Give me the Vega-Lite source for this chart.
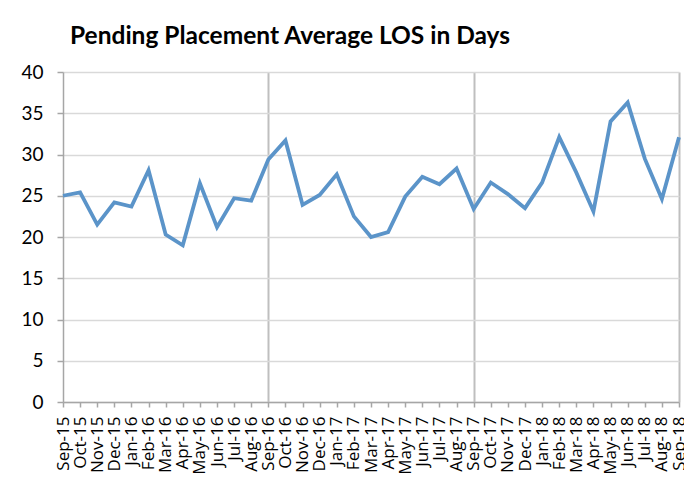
{
  "$schema": "https://vega.github.io/schema/vega-lite/v6.json",
  "width": 616,
  "height": 330,
  "autosize": {"type": "none"},
  "padding": {"left": 63, "top": 72, "right": 5, "bottom": 100},
  "background": "white",
  "title": {
    "text": "Pending Placement Average LOS in Days",
    "anchor": "start",
    "frame": "group",
    "font": "Lato",
    "fontSize": 24.5,
    "fontWeight": "bold",
    "color": "#000000",
    "dx": 7,
    "offset": 14
  },
  "config": {
    "view": {"stroke": null},
    "axis": {"labelColor": "#000000"}
  },
  "data": {
    "values": [
      {"month": "Sep-15", "los": 25.0},
      {"month": "Oct-15", "los": 25.4},
      {"month": "Nov-15", "los": 21.5},
      {"month": "Dec-15", "los": 24.2},
      {"month": "Jan-16", "los": 23.7},
      {"month": "Feb-16", "los": 28.1},
      {"month": "Mar-16", "los": 20.3},
      {"month": "Apr-16", "los": 19.0},
      {"month": "May-16", "los": 26.5},
      {"month": "Jun-16", "los": 21.2},
      {"month": "Jul-16", "los": 24.7},
      {"month": "Aug-16", "los": 24.4},
      {"month": "Sep-16", "los": 29.4},
      {"month": "Oct-16", "los": 31.7},
      {"month": "Nov-16", "los": 23.9},
      {"month": "Dec-16", "los": 25.1},
      {"month": "Jan-17", "los": 27.6},
      {"month": "Feb-17", "los": 22.5},
      {"month": "Mar-17", "los": 20.0},
      {"month": "Apr-17", "los": 20.6},
      {"month": "May-17", "los": 24.9},
      {"month": "Jun-17", "los": 27.3},
      {"month": "Jul-17", "los": 26.4},
      {"month": "Aug-17", "los": 28.3},
      {"month": "Sep-17", "los": 23.4},
      {"month": "Oct-17", "los": 26.6},
      {"month": "Nov-17", "los": 25.2},
      {"month": "Dec-17", "los": 23.5},
      {"month": "Jan-18", "los": 26.6},
      {"month": "Feb-18", "los": 32.1},
      {"month": "Mar-18", "los": 27.8},
      {"month": "Apr-18", "los": 23.1},
      {"month": "May-18", "los": 34.0},
      {"month": "Jun-18", "los": 36.3},
      {"month": "Jul-18", "los": 29.5},
      {"month": "Aug-18", "los": 24.6},
      {"month": "Sep-18", "los": 32.1}
    ]
  },
  "mark": {"type": "line", "color": "#5b94c9", "strokeWidth": 3.8, "strokeJoin": "miter", "strokeMiterLimit": 10},
  "encoding": {
    "x": {
      "field": "month",
      "type": "ordinal",
      "sort": null,
      "scale": {"type": "point", "padding": 0},
      "axis": {
        "title": null,
        "labelAngle": -90,
        "labelFont": "Open Sans",
        "labelFontSize": 17,
        "labelPadding": 9,
        "labelOverlap": false,
        "tickSize": 5,
        "tickColor": "#a6a6a6",
        "tickWidth": 1.5,
        "domainColor": "#a6a6a6",
        "domainWidth": 1.5,
        "grid": true,
        "gridColor": {"condition": {"test": "indexof(['Sep-16','Sep-17','Sep-18'], datum.value) >= 0", "value": "#bfbfbf"}, "value": "transparent"},
        "gridWidth": 2
      }
    },
    "y": {
      "field": "los",
      "type": "quantitative",
      "scale": {"domain": [0, 40]},
      "axis": {
        "title": null,
        "values": [0, 5, 10, 15, 20, 25, 30, 35, 40],
        "labelFont": "Lato",
        "labelFontSize": 19,
        "labelPadding": 14,
        "tickSize": 6,
        "tickColor": "#a6a6a6",
        "tickWidth": 1.5,
        "domainColor": "#a6a6a6",
        "domainWidth": 1.5,
        "gridColor": "#d9d9d9",
        "gridWidth": 1.5
      }
    }
  }
}
